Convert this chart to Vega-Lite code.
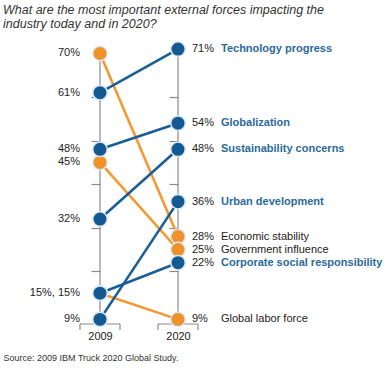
{
  "$schema": "https://vega.github.io/schema/vega-lite/v6.json",
  "width": 389,
  "height": 290,
  "autosize": {"type": "none"},
  "padding": {"left": 0, "right": 0, "top": 34, "bottom": 51},
  "background": "white",
  "title": {
    "text": ["What are the most important external forces impacting the", "industry today and in 2020?"],
    "anchor": "start",
    "frame": "group",
    "font": "Liberation Sans",
    "fontSize": 12.5,
    "fontStyle": "italic",
    "fontWeight": "normal",
    "color": "#333333",
    "lineHeight": 14,
    "offset": 4,
    "dx": 3
  },
  "data": {
    "values": [
      {"factor": "Economic stability", "year": "2009", "value": 70, "trend": "down", "lab": "70%"},
      {"factor": "Economic stability", "year": "2020", "value": 28, "trend": "down", "lab": "28%"},
      {"factor": "Government influence", "year": "2009", "value": 45, "trend": "down", "lab": "45%"},
      {"factor": "Government influence", "year": "2020", "value": 25, "trend": "down", "lab": "25%"},
      {"factor": "Global labor force", "year": "2009", "value": 15, "trend": "down", "lab": ""},
      {"factor": "Global labor force", "year": "2020", "value": 9, "trend": "down", "lab": "9%"},
      {"factor": "Technology progress", "year": "2009", "value": 61, "trend": "up", "lab": "61%"},
      {"factor": "Technology progress", "year": "2020", "value": 71, "trend": "up", "lab": "71%"},
      {"factor": "Globalization", "year": "2009", "value": 48, "trend": "up", "lab": "48%"},
      {"factor": "Globalization", "year": "2020", "value": 54, "trend": "up", "lab": "54%"},
      {"factor": "Sustainability concerns", "year": "2009", "value": 32, "trend": "up", "lab": "32%"},
      {"factor": "Sustainability concerns", "year": "2020", "value": 48, "trend": "up", "lab": "48%"},
      {"factor": "Urban development", "year": "2009", "value": 9, "trend": "up", "lab": "9%"},
      {"factor": "Urban development", "year": "2020", "value": 36, "trend": "up", "lab": "36%"},
      {"factor": "Corporate social responsibility", "year": "2009", "value": 15, "trend": "up", "lab": "15%, 15%"},
      {"factor": "Corporate social responsibility", "year": "2020", "value": 22, "trend": "up", "lab": "22%"}
    ]
  },
  "encoding": {
    "x": {
      "field": "year",
      "type": "ordinal",
      "scale": {"type": "point", "domain": ["2009", "2020"], "range": [100, 178], "padding": 0},
      "axis": {
        "orient": "bottom",
        "domain": false,
        "ticks": false,
        "labelAngle": 0,
        "labelPadding": 6,
        "labelFontSize": 11,
        "labelColor": "#222222",
        "labelFont": "Liberation Sans",
        "title": "Source: 2009 IBM Truck 2020 Global Study.",
        "titleFont": "Liberation Sans",
        "titleFontSize": 9,
        "titleFontWeight": "normal",
        "titleColor": "#333333",
        "titleAlign": "left",
        "titleAnchor": "start",
        "titleX": 3,
        "titleY": 36,
        "titleBaseline": "alphabetic"
      }
    }
  },
  "layer": [
    {
      "transform": [
        {"aggregate": [{"op": "max", "field": "value", "as": "top"}], "groupby": ["year"]}
      ],
      "layer": [
        {
          "mark": {"type": "rule", "color": "#8a8a8a", "strokeWidth": 1.2},
          "encoding": {
            "y": {
              "field": "top",
              "type": "quantitative",
              "scale": {"domain": [7.94, 74.45], "nice": false, "zero": false},
              "axis": {
                "orient": "left",
                "offset": -178,
                "values": [20, 30, 40, 50, 60],
                "domain": false,
                "labels": false,
                "grid": false,
                "title": null,
                "tickSize": 9,
                "tickColor": "#8a8a8a",
                "tickWidth": 1.2
              }
            },
            "y2": {"value": "height"}
          }
        },
        {
          "mark": {"type": "rule", "color": "#8a8a8a", "strokeWidth": 1.2, "xOffset": -20, "x2Offset": 20},
          "encoding": {
            "x2": {"field": "year"},
            "y": {"value": "height"}
          }
        },
        {
          "mark": {"type": "rule", "color": "#8a8a8a", "strokeWidth": 1.2, "xOffset": -20, "y2Offset": 6},
          "encoding": {
            "y": {"value": "height"},
            "y2": {"value": "height"}
          }
        },
        {
          "mark": {"type": "rule", "color": "#8a8a8a", "strokeWidth": 1.2, "xOffset": 20, "y2Offset": 6},
          "encoding": {
            "y": {"value": "height"},
            "y2": {"value": "height"}
          }
        }
      ]
    },
    {
      "encoding": {
        "y": {
          "field": "value",
          "type": "quantitative",
          "scale": {"domain": [7.94, 74.45], "nice": false, "zero": false},
          "axis": {
            "orient": "left",
            "offset": -100,
            "values": [20, 30, 40, 50, 60],
            "domain": false,
            "labels": false,
            "grid": false,
            "title": null,
            "tickSize": 9,
            "tickColor": "#8a8a8a",
            "tickWidth": 1.2
          }
        }
      },
      "layer": [
        {
          "mark": {"type": "line", "strokeWidth": 2.6},
          "encoding": {
            "detail": {"field": "factor"},
            "color": {
              "field": "trend",
              "type": "nominal",
              "scale": {"domain": ["up", "down"], "range": ["#1b5e96", "#f29a33"]},
              "legend": null
            }
          }
        },
        {
          "mark": {"type": "point", "filled": true, "size": 210, "opacity": 1, "stroke": "#dbe8f3", "strokeWidth": 1.5, "strokeOpacity": 1},
          "encoding": {
            "fill": {
              "field": "trend",
              "type": "nominal",
              "scale": {"domain": ["up", "down"], "range": ["#135a93", "#f0922a"]},
              "legend": null
            }
          }
        },
        {
          "transform": [{"filter": "datum.year === '2009' && datum.lab !== ''"}],
          "mark": {"type": "text", "align": "right", "baseline": "middle", "dx": -20, "font": "Liberation Sans", "fontSize": 11, "color": "#222222"},
          "encoding": {"text": {"field": "lab"}}
        },
        {
          "transform": [{"filter": "datum.year === '2020'"}],
          "mark": {"type": "text", "align": "left", "baseline": "middle", "dx": 14, "font": "Liberation Sans", "fontSize": 11, "color": "#222222"},
          "encoding": {"text": {"field": "lab"}}
        },
        {
          "transform": [{"filter": "datum.year === '2020' && datum.trend === 'up'"}],
          "mark": {"type": "text", "align": "left", "baseline": "middle", "dx": 43, "font": "Liberation Sans", "fontSize": 11, "fontWeight": "bold", "color": "#2b6a9c"},
          "encoding": {"text": {"field": "factor"}}
        },
        {
          "transform": [{"filter": "datum.year === '2020' && datum.trend === 'down'"}],
          "mark": {"type": "text", "align": "left", "baseline": "middle", "dx": 43, "font": "Liberation Sans", "fontSize": 11, "color": "#222222"},
          "encoding": {"text": {"field": "factor"}}
        }
      ]
    }
  ],
  "resolve": {"scale": {"y": "independent"}},
  "config": {
    "view": {"stroke": null},
    "font": "Liberation Sans"
  }
}
